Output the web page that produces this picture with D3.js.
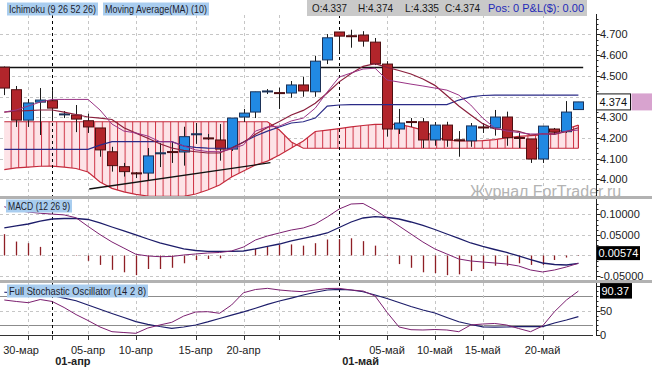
<!DOCTYPE html>
<html><head><meta charset="utf-8">
<script src="https://cdn.jsdelivr.net/npm/d3@7"></script>
<style>
body{margin:0;background:#fff;}
svg{display:block;font-family:"Liberation Sans",Arial,sans-serif;}
</style>
</head><body>
<svg id="c" width="652" height="367"></svg>
<script>
// ---------- DATA ----------
const opens  = [4.542,4.433,4.286,4.373,4.380,4.315,4.311,4.283,4.248,4.133,4.061,4.031,4.030,4.126,4.134,4.132,4.218,4.200,4.190,4.146,4.301,4.325,4.426,4.419,4.417,4.456,4.423,4.577,4.712,4.694,4.697,4.663,4.557,4.243,4.279,4.278,4.190,4.262,4.191,4.186,4.253,4.248,4.301,4.202,4.195,4.098,4.243,4.230,4.337];
const highs  = [4.545,4.451,4.388,4.441,4.431,4.330,4.359,4.317,4.248,4.157,4.079,4.035,4.151,4.175,4.182,4.254,4.272,4.219,4.267,4.296,4.340,4.423,4.436,4.443,4.475,4.496,4.597,4.702,4.712,4.723,4.716,4.683,4.571,4.340,4.296,4.296,4.277,4.278,4.233,4.272,4.272,4.335,4.327,4.224,4.195,4.257,4.248,4.378,4.374];
const lows   = [4.407,4.253,4.253,4.214,4.282,4.296,4.228,4.224,4.109,4.037,4.013,4.006,3.993,4.059,4.079,4.066,4.171,4.190,4.090,4.137,4.277,4.296,4.412,4.340,4.394,4.399,4.399,4.557,4.615,4.636,4.641,4.552,4.206,4.219,4.253,4.151,4.162,4.157,4.109,4.157,4.224,4.211,4.162,4.151,4.079,4.079,4.214,4.224,4.335];
const closes = [4.441,4.286,4.369,4.383,4.344,4.316,4.291,4.253,4.142,4.066,4.037,4.030,4.113,4.128,4.132,4.206,4.220,4.198,4.146,4.296,4.320,4.423,4.427,4.418,4.456,4.427,4.571,4.684,4.692,4.693,4.668,4.558,4.243,4.272,4.278,4.190,4.262,4.190,4.189,4.258,4.248,4.301,4.201,4.200,4.098,4.257,4.228,4.325,4.374];

const tenkan = [4.325,4.335,4.354,4.373,4.386,4.386,4.386,4.386,4.335,4.267,4.233,4.224,4.209,4.182,4.182,4.161,4.142,4.134,4.133,4.146,4.166,4.233,4.253,4.257,4.282,4.296,4.344,4.422,4.494,4.514,4.533,4.537,4.480,4.470,4.460,4.451,4.441,4.431,4.407,4.359,4.296,4.248,4.233,4.226,4.219,4.219,4.219,4.233,4.238];
const kijun  = [4.145,4.145,4.145,4.145,4.145,4.145,4.145,4.145,4.165,4.182,4.182,4.182,4.182,4.182,4.182,4.161,4.154,4.151,4.150,4.151,4.180,4.209,4.233,4.253,4.272,4.278,4.296,4.354,4.359,4.361,4.361,4.361,4.361,4.361,4.361,4.361,4.361,4.361,4.383,4.398,4.405,4.407,4.407,4.407,4.407,4.407,4.407,4.407,4.407];
const ma10   = [4.325,4.330,4.332,4.335,4.335,4.325,4.313,4.301,4.296,4.289,4.249,4.223,4.198,4.172,4.151,4.140,4.133,4.127,4.128,4.151,4.179,4.218,4.250,4.279,4.311,4.333,4.368,4.417,4.471,4.511,4.546,4.559,4.541,4.526,4.509,4.485,4.454,4.405,4.354,4.311,4.269,4.243,4.239,4.232,4.214,4.220,4.217,4.231,4.249];
const spanA  = [4.047,4.055,4.059,4.063,4.064,4.059,4.052,4.035,3.987,3.956,3.939,3.927,3.919,3.917,3.917,3.917,3.929,3.948,3.972,4.011,4.040,4.069,4.088,4.117,4.151,4.185,4.231,4.238,4.245,4.253,4.260,4.265,4.266,4.265,4.253,4.238,4.204,4.190,4.185,4.185,4.187,4.192,4.200,4.207,4.211,4.214,4.224,4.243,4.262];
const spanB  = [4.278,4.278,4.278,4.278,4.278,4.278,4.278,4.278,4.278,4.278,4.278,4.278,4.278,4.278,4.278,4.278,4.278,4.278,4.278,4.278,4.278,4.278,4.278,4.238,4.180,4.150,4.150,4.150,4.150,4.150,4.150,4.150,4.150,4.150,4.150,4.150,4.150,4.150,4.150,4.150,4.150,4.150,4.150,4.150,4.150,4.150,4.150,4.150,4.150];

const hLineLevel = 4.544;
const trendIdx = [7.1, 22.25];
const trendVal = [3.953, 4.080];

const macdLine   = [0.119,0.110,0.106,0.103,0.101,0.099,0.092,0.071,0.051,0.033,0.018,0.003,-0.0012,-0.0029,-0.0024,0.0012,0.0037,0.0061,0.0073,0.0110,0.0207,0.0378,0.0476,0.0549,0.0622,0.0671,0.0768,0.0939,0.1134,0.1256,0.1268,0.1110,0.0915,0.0720,0.0524,0.0329,0.0159,0.0037,-0.0085,-0.0134,-0.0159,-0.0183,-0.0207,-0.0256,-0.0354,-0.0402,-0.0354,-0.0280,-0.0190];
const macdSignal = [0.0671,0.0720,0.0768,0.0841,0.0890,0.0902,0.0902,0.0878,0.0793,0.0695,0.0598,0.0500,0.0402,0.0305,0.0232,0.0159,0.0122,0.0098,0.0098,0.0098,0.0110,0.0159,0.0220,0.0280,0.0354,0.0415,0.0476,0.0549,0.0683,0.0817,0.0915,0.0946,0.0927,0.0890,0.0817,0.0732,0.0634,0.0524,0.0415,0.0305,0.0220,0.0146,0.0073,-0.0012,-0.0098,-0.0183,-0.0220,-0.0232,-0.0190];
const macdHist   = [0.052,0.034,0.030,0.021,0.001,0.0005,-0.001,-0.013,-0.023,-0.035,-0.041,-0.048,-0.033,-0.033,-0.030,-0.019,-0.011,-0.0085,-0.007,-0.001,0.001,0.017,0.021,0.026,0.027,0.024,0.030,0.039,0.040,0.042,0.035,0.024,0.001,-0.021,-0.030,-0.041,-0.043,-0.048,-0.046,-0.038,-0.033,-0.025,-0.025,-0.019,-0.023,-0.023,-0.011,-0.005,-0.001];

const stochK = [72,69,66.5,73,69,56.6,42,29.8,16.5,6.8,5.1,3.5,14.4,20.6,26.1,39,47.3,48,44.7,61.7,87,93.6,96,92.6,90.5,89,92.6,95.7,96,92.6,90.5,80.2,46.7,16.5,10.9,10.3,11.3,10.3,6.8,20.6,22.6,23.7,20.6,13.4,6.8,18.5,48,72,90.37];
const stochD = [88,87,86,84,81.3,76,70.4,61.7,53,44.2,36,27.4,22,17.5,13.8,16.5,20.6,27,34,41,47.5,55,63,70,76,82.3,88,92.6,94,92.6,89,82.3,75.1,66.9,58.6,51.4,45.3,36,27.2,21.6,16.9,16,16.5,17.1,17.1,17.1,24.7,30.9,37.7];

const priceTicks = [4.0,4.1,4.2,4.3,4.4,4.5,4.6,4.7];
const priceLabels = [4.0,4.1,4.2,4.3,4.5,4.6,4.7];      // 4.400 is hidden by the last-price box
const macdTicks  = [-0.05,0,0.05,0.10];
const macdLabels = [-0.05,0.05,0.10];                    // 0 hidden by value box
const stochTicks = [0,50,100];
const stochLabels = [0,50];                              // 100 hidden by value box
const gridIdx    = [2,7,11,16,20,23,32,36,40,45];
const markerIdx  = [4,28];
const dateLabels = ["30-мар","05-апр","10-апр","15-апр","20-апр","05-май","10-май","15-май","20-май"];
const dateIdx    = [1.4,7,11,16,20,32,36,40,45];
const monthLabels = ["01-апр","01-май"];
const monthIdx    = [4,28];

// ---------- LAYOUT ----------
const svg = d3.select("#c");
const PR = 593, AX = 596.5;
const x  = d3.scaleLinear().domain([0,48]).range([4.3,578.4]);
const yP = d3.scaleLinear().domain([3.924,4.799]).range([195,14]);
const yM = d3.scaleLinear().domain([-0.0598,0.1378]).range([280,199]);
const yS = d3.scaleLinear().domain([0,107]).range([335,283]);
const panes = {main:[0,196], macd:[199,280], stoch:[283,335]};

svg.append("rect").attr("width",652).attr("height",367).attr("fill","#fff");
const defs = svg.append("defs");
Object.entries(panes).forEach(([k,[t,b]])=>{
  defs.append("clipPath").attr("id","clip-"+k).append("rect").attr("x",0).attr("y",t).attr("width",PR).attr("height",b-t);
});
const pat = defs.append("pattern").attr("id","hatch").attr("patternUnits","userSpaceOnUse")
  .attr("x",3).attr("y",0).attr("width",7.6).attr("height",10);
pat.append("rect").attr("width",7.6).attr("height",10).attr("fill","#fde3e7");
pat.append("line").attr("x1",0.5).attr("x2",0.5).attr("y1",0).attr("y2",10).attr("stroke","#cf3446").attr("stroke-width",1);

const GRID = "#c6c6c6";
function vGrid(g, t, b){
  g.selectAll(null).data(gridIdx).join("line")
    .attr("x1",d=>Math.round(x(d))+0.5).attr("x2",d=>Math.round(x(d))+0.5)
    .attr("y1",t).attr("y2",b).attr("stroke",GRID).attr("stroke-dasharray","3,3");
}
function hGrid(g, vals, sc){
  g.selectAll(null).data(vals).join("line")
    .attr("x1",0).attr("x2",PR).attr("y1",d=>Math.round(sc(d))+0.5).attr("y2",d=>Math.round(sc(d))+0.5)
    .attr("stroke",GRID).attr("stroke-dasharray","3,3");
}
function markers(g, t, b){
  g.selectAll(null).data(markerIdx).join("line")
    .attr("x1",d=>Math.round(x(d))+0.5).attr("x2",d=>Math.round(x(d))+0.5)
    .attr("y1",t).attr("y2",b).attr("stroke","#000").attr("stroke-dasharray","3,3");
}
const idx = d3.range(opens.length);

// ---------- MAIN PANE ----------
const gMain = svg.append("g").attr("clip-path","url(#clip-main)");
hGrid(gMain, priceTicks, yP);
vGrid(gMain, 15, 196);

gMain.append("path").datum(idx)
  .attr("d", d3.area().x(i=>x(i)).y0(i=>yP(spanA[i])).y1(i=>yP(spanB[i])))
  .attr("fill","url(#hatch)");
[spanA, spanB].forEach(s=>{
  gMain.append("path").datum(s).attr("fill","none").attr("stroke","#c42a3c").attr("stroke-width",1.2)
    .attr("d", d3.line().x((d,i)=>x(i)).y(d=>yP(d)));
});
gMain.append("line").attr("x1",x(48)).attr("x2",x(48)).attr("y1",yP(spanA[48])).attr("y2",yP(spanB[48]))
  .attr("stroke","#c42a3c").attr("stroke-width",1.2);

gMain.append("line").attr("x1",0).attr("x2",x(48.4)).attr("y1",Math.round(yP(hLineLevel))+0.5).attr("y2",Math.round(yP(hLineLevel))+0.5)
  .attr("stroke","#111").attr("stroke-width",1.3);
gMain.append("line").attr("x1",x(trendIdx[0])).attr("x2",x(trendIdx[1])).attr("y1",yP(trendVal[0])).attr("y2",yP(trendVal[1]))
  .attr("stroke","#111").attr("stroke-width",1.3);

markers(gMain, 15, 196);

const candles = idx.map(i=>({i,o:opens[i],h:highs[i],l:lows[i],c:closes[i]}));
const gC = gMain.append("g");
gC.selectAll("line").data(candles).join("line")
  .attr("x1",d=>Math.round(x(d.i))+0.5).attr("x2",d=>Math.round(x(d.i))+0.5)
  .attr("y1",d=>yP(d.h)).attr("y2",d=>yP(d.l)).attr("stroke","#1b1b1b").attr("stroke-width",1);
gC.selectAll("rect").data(candles).join("rect")
  .attr("x",d=>Math.round(x(d.i))-4.5).attr("width",10)
  .attr("y",d=>yP(Math.max(d.o,d.c))).attr("height",d=>Math.max(1,Math.abs(yP(d.o)-yP(d.c))))
  .attr("fill",d=>d.c>=d.o?"#2189e3":"#b2252b")
  .attr("stroke",d=>d.c>=d.o?"#1b3258":"#4e0f12").attr("stroke-width",1);

const lineP = d3.line().x((d,i)=>x(i)).y(d=>yP(d));
gMain.append("path").datum(kijun).attr("d",lineP).attr("fill","none").attr("stroke","#2a2a86").attr("stroke-width",1.2);
gMain.append("path").datum(ma10).attr("d",lineP).attr("fill","none").attr("stroke","#8a1f3c").attr("stroke-width",1.2);
gMain.append("path").datum(tenkan).attr("d",lineP).attr("fill","none").attr("stroke","#9a3486").attr("stroke-width",1);

// watermark (bottom slightly hidden by the pane separator, as in the picture)
svg.append("text").attr("x",470).attr("y",197).attr("font-size",16).attr("fill","#b3b3b3").text("Журнал ForTrader.ru");

// ---------- MACD PANE ----------
const gMacd = svg.append("g").attr("clip-path","url(#clip-macd)");
hGrid(gMacd, macdTicks, yM);
vGrid(gMacd, 199, 280);
markers(gMacd, 199, 280);
gMacd.selectAll(null).data(idx).join("line")
  .attr("x1",i=>Math.round(x(i))+0.5).attr("x2",i=>Math.round(x(i))+0.5)
  .attr("y1",yM(0)).attr("y2",i=>yM(macdHist[i])).attr("stroke","#8e1f25").attr("stroke-width",1.3);
const lineM = d3.line().x((d,i)=>x(i)).y(d=>yM(d));
gMacd.append("path").datum(macdSignal).attr("d",lineM).attr("fill","none").attr("stroke","#1d1d6a").attr("stroke-width",1.3);
gMacd.append("path").datum(macdLine).attr("d",lineM).attr("fill","none").attr("stroke","#7c2070").attr("stroke-width",1);

// ---------- STOCH PANE ----------
const gSt = svg.append("g").attr("clip-path","url(#clip-stoch)");
hGrid(gSt, [50], yS);
gSt.selectAll(null).data([20,80]).join("line")
  .attr("x1",0).attr("x2",PR).attr("y1",d=>Math.round(yS(d))+0.5).attr("y2",d=>Math.round(yS(d))+0.5)
  .attr("stroke","#8c8c8c");
vGrid(gSt, 283, 335);
markers(gSt, 283, 336);
const lineS = d3.line().x((d,i)=>x(i)).y(d=>yS(d));
gSt.append("path").datum(stochD).attr("d",lineS).attr("fill","none").attr("stroke","#1d1d6a").attr("stroke-width",1.2);
gSt.append("path").datum(stochK).attr("d",lineS).attr("fill","none").attr("stroke","#7c2070").attr("stroke-width",1);

// ---------- X AXIS ----------
const gX = svg.append("g");
gX.append("line").attr("x1",0).attr("x2",PR).attr("y1",335.5).attr("y2",335.5).attr("stroke","#333");
gX.selectAll(null).data(gridIdx.concat(markerIdx)).join("line")
  .attr("x1",d=>Math.round(x(d))+0.5).attr("x2",d=>Math.round(x(d))+0.5).attr("y1",335).attr("y2",340).attr("stroke","#333");
gX.selectAll(null).data(dateLabels).join("text")
  .attr("x",(d,i)=>x(dateIdx[i])).attr("y",354).attr("text-anchor","middle")
  .attr("font-size",11).attr("fill","#222").text(d=>d);
gX.selectAll(null).data(monthLabels).join("text")
  .attr("x",(d,i)=>x(monthIdx[i])+3).attr("y",365)
  .attr("font-size",11).attr("font-weight","bold").attr("fill","#222").text(d=>d);

// ---------- SEPARATORS ----------
svg.append("rect").attr("x",0).attr("y",196).attr("width",652).attr("height",3).attr("fill","#b2b2b2");
svg.append("rect").attr("x",0).attr("y",280).attr("width",652).attr("height",3).attr("fill","#b2b2b2");

// ---------- RIGHT AXES ----------
const gY = svg.append("g");
[[14,196],[199,280],[283,336]].forEach(([t,b])=>{
  gY.append("line").attr("x1",AX).attr("x2",AX).attr("y1",t).attr("y2",b).attr("stroke","#222");
});
function yAxis(ticks, labels, sc, fmt, minor){
  gY.selectAll(null).data(minor).join("line")
    .attr("x1",AX).attr("x2",AX+2).attr("y1",d=>Math.round(sc(d))+0.5).attr("y2",d=>Math.round(sc(d))+0.5).attr("stroke","#222");
  gY.selectAll(null).data(ticks).join("line")
    .attr("x1",AX).attr("x2",AX+4).attr("y1",d=>Math.round(sc(d))+0.5).attr("y2",d=>Math.round(sc(d))+0.5).attr("stroke","#222");
  gY.selectAll(null).data(labels).join("text")
    .attr("x",AX+3.5).attr("y",d=>sc(d)).attr("dy","0.36em").attr("font-size",11).attr("fill","#222").text(fmt);
}
yAxis(priceTicks, priceLabels, yP, d3.format(".3f"), d3.range(3.95,4.78,0.025));
yAxis(macdTicks, macdLabels, yM, d=>d3.format(".5f")(d).replace("−","-"), d3.range(-0.05,0.13,0.0125));
yAxis(stochTicks, stochLabels, yS, d3.format("d"), d3.range(0,101,10));

const lastC = closes[closes.length-1];
gY.append("rect").attr("x",AX).attr("y",yP(lastC)-8).attr("width",34).attr("height",16).attr("fill","#fff").attr("stroke","#111");
gY.append("rect").attr("x",AX+35).attr("y",yP(lastC)-8.5).attr("width",21).attr("height",17).attr("fill","#d8a3cf");
gY.append("text").attr("x",AX+3).attr("y",yP(lastC)).attr("dy","0.36em").attr("font-size",11).attr("fill","#111").text(d3.format(".3f")(lastC));

const macdLast = 0.00574;
gY.append("rect").attr("x",AX+0.5).attr("y",yM(macdLast)-7).attr("width",43).attr("height",14).attr("fill","#000");
gY.append("text").attr("x",AX+2).attr("y",yM(macdLast)).attr("dy","0.36em").attr("font-size",11).attr("fill","#fff").text(d3.format(".5f")(macdLast));

const kLast = stochK[stochK.length-1];
gY.append("rect").attr("x",AX+3.5).attr("y",yS(kLast)-8).attr("width",32).attr("height",15.5).attr("fill","#000");
gY.append("text").attr("x",AX+5).attr("y",yS(kLast)).attr("dy","0.36em").attr("font-size",11).attr("fill","#fff").text(d3.format(".2f")(kLast));

// ---------- LEGENDS ----------
function legend(txt, lx, ly, w){
  const g = svg.append("g");
  g.append("rect").attr("x",lx-2).attr("y",ly-10.5).attr("width",w+4).attr("height",13).attr("fill","#a9cdef");
  g.append("text").attr("x",lx).attr("y",ly).attr("font-size",11).attr("fill","#1d1d2e")
    .attr("textLength",w).attr("lengthAdjust","spacingAndGlyphs").text(txt);
}
legend("Ichimoku (9 26 52 26)", 9, 13, 87);
legend("Moving Average(MA) (10)", 105, 13, 102);
legend("MACD (12 26 9)", 8, 210, 62);
legend("Full Stochastic Oscillator (14 2 8)", 9, 295, 137);

// header OHLC
svg.append("rect").attr("x",307).attr("y",0).attr("width",280).attr("height",16).attr("fill","#c9c9c9");
const hdr = [["O:"+d3.format(".3f")(opens[48]),312,35,"#1a1a1a"],["H:"+d3.format(".3f")(highs[48]),358,35,"#1a1a1a"],
             ["L:"+d3.format(".3f")(lows[48]),405,34,"#1a1a1a"],["C:"+d3.format(".3f")(closes[48]),445,35,"#1a1a1a"],
             ["Pos: 0 P&L($): 0.00",488,96,"#1f2ab8"]];
svg.selectAll(null).data(hdr).join("text").attr("x",d=>d[1]).attr("y",12).attr("font-size",11)
  .attr("textLength",d=>d[2]).attr("lengthAdjust","spacingAndGlyphs")
  .attr("fill",d=>d[3]).text(d=>d[0]);
</script>
</body></html>
